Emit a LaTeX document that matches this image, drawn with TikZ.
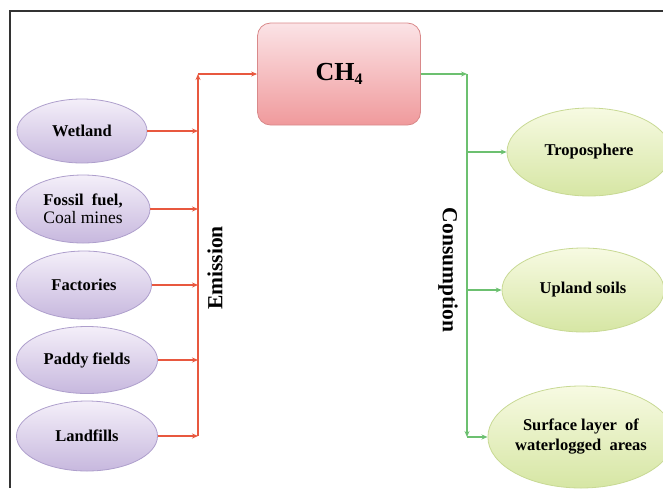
\documentclass[tikz,border=0pt]{standalone}
\usepackage{fontspec}
\setmainfont{Liberation Serif}
\usetikzlibrary{shapes.geometric,arrows.meta}
\definecolor{redln}{HTML}{E8583F}
\definecolor{grnln}{HTML}{6CC070}
\definecolor{pupT}{HTML}{F4EFF9}
\definecolor{pupB}{HTML}{C7B8DE}
\definecolor{pupD}{HTML}{AE9FCC}
\definecolor{grnT}{HTML}{F7FAE2}
\definecolor{grnB}{HTML}{D6E6A4}
\definecolor{grnD}{HTML}{C8D994}
\definecolor{pnkT}{HTML}{FBE3E6}
\definecolor{pnkB}{HTML}{F09A9C}
\definecolor{pnkD}{HTML}{D9898A}
\definecolor{frm}{HTML}{333333}
\tikzset{
  src/.style={ellipse, draw=pupD, line width=0.8pt, top color=pupT, bottom color=pupB,
    inner sep=0pt, align=center, font=\fontsize{16.5}{20}\selectfont\bfseries},
  snk/.style={ellipse, draw=grnD, line width=0.8pt, top color=grnT, bottom color=grnB,
    inner sep=0pt, align=center, font=\fontsize{16.5}{20}\selectfont\bfseries},
  redarr/.style={draw=redln, line width=1.4pt, -{Stealth[length=6pt,width=5pt]}},
  redln/.style={draw=redln, line width=1.4pt},
  grarr/.style={draw=grnln, line width=1.4pt, -{Stealth[length=6pt,width=5pt]}},
  vlabel/.style={font=\fontsize{21.5}{24}\selectfont\bfseries, inner sep=0pt}
}
\begin{document}
\begin{tikzpicture}[x=1pt,y=-1pt]
\useasboundingbox (0,0) rectangle (663,488);
\clip (0,0) rectangle (663,488);
% frame
\draw[frm, line width=1.5pt] (10,488) -- (10,11) -- (670,11);
% central box
\node[draw=pnkD, line width=0.8pt, top color=pnkT, bottom color=pnkB, rounded corners=13pt,
  minimum width=163pt, minimum height=102pt, inner sep=0pt,
  font=\fontsize{26}{30}\selectfont\bfseries] (ch4) at (339,74)
  {CH\raisebox{-0.35ex}{\fontsize{16}{16}\selectfont 4}};
% sources
\node[src, minimum width=130pt, minimum height=64pt] (wet) at (82,131) {Wetland};
\node[src, minimum width=134pt, minimum height=68pt] (fos) at (83,209)
  {Fossil\ \ fuel,\\[-2pt]{\fontsize{17.5}{20}\selectfont\mdseries Coal mines}};
\node[src, minimum width=135pt, minimum height=68pt] (fac) at (84,285) {Factories};
\node[src, minimum width=141pt, minimum height=67pt] (pad) at (87,360) {Paddy fields};
\node[src, minimum width=141pt, minimum height=70pt] (lan) at (87,436) {Landfills};
% sinks
\node[snk, minimum width=164pt, minimum height=88pt] (tro) at (589,152) {Troposphere};
\node[snk, minimum width=162pt, minimum height=84pt] (upl) at (583,290) {Upland soils};
\node[snk, minimum width=174pt, minimum height=102pt] (sur) at (581,437)
  {Surface layer \ of\\waterlogged \ areas};
% emission connectors
\coordinate (rtop) at (198,74);
\coordinate (gtop) at (467,74);
\coordinate (gbot) at (467,437);
\foreach \n in {wet,fos,fac,pad,lan}
  \draw[redarr] (\n.east) -- (\n.east -| rtop);
\draw[redarr] (lan.east -| rtop) -- (rtop);
\draw[redarr] (rtop) -- (ch4.west);
% consumption connectors
\draw[grarr] (ch4.east) -- (gtop);
\draw[grarr] (gtop) -- (gbot);
\draw[grarr] (tro.west -| gtop) -- (tro.west);
\draw[grarr] (upl.west -| gtop) -- (upl.west);
\draw[grarr] (gbot) -- (sur.west);
% labels
\node[vlabel, rotate=90] (emi) at (215,268) {Emission};
\node[vlabel, rotate=-90] (con) at (448,270) {Consumption};
\end{tikzpicture}
\end{document}
